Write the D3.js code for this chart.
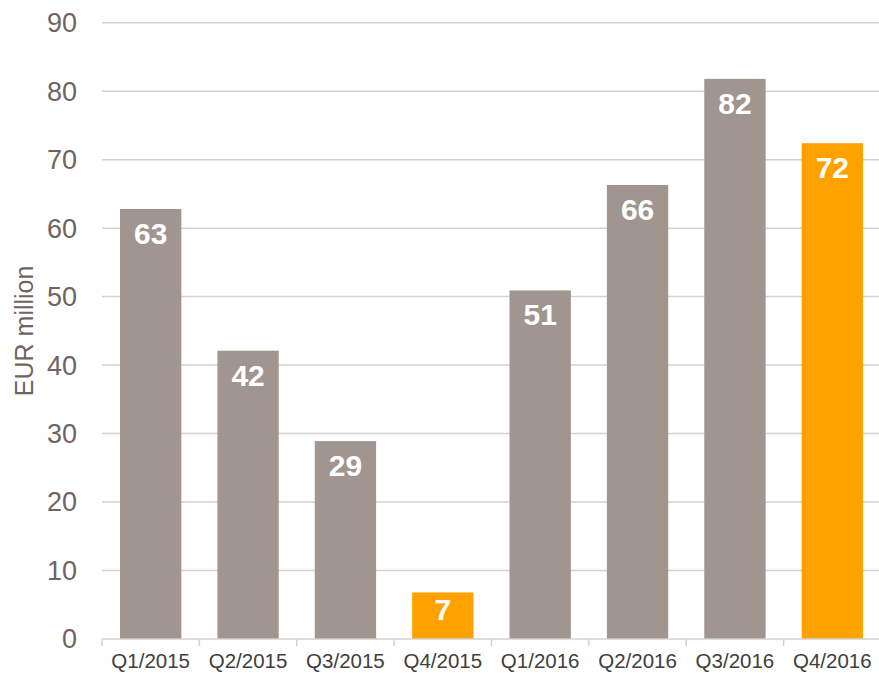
<!DOCTYPE html>
<html>
<head>
<meta charset="utf-8">
<script src="https://cdn.jsdelivr.net/npm/d3@7"></script>
<style>
  body { margin: 0; background: #fff; }
  svg { display: block; font-family: Arial, "Liberation Sans", sans-serif; }
</style>
</head>
<body>
<script>
const width = 879;
const height = 673;

const quarters = ['Q1/2015', 'Q2/2015', 'Q3/2015', 'Q4/2015', 'Q1/2016', 'Q2/2016', 'Q3/2016', 'Q4/2016'];
const values = [62.8, 42.1, 28.9, 6.8, 50.9, 66.3, 81.8, 72.4];
const highlight = ['Q4/2015', 'Q4/2016'];
const yTicks = [0, 10, 20, 30, 40, 50, 60, 70, 80, 90];

const margin = { top: 22.7, right: -2, bottom: 34, left: 102 };

const svg = d3.select('body').append('svg')
    .attr('width', width)
    .attr('height', height);

const x = d3.scaleBand()
    .domain(quarters)
    .range([margin.left, width - margin.right])
    .paddingInner(0.37)
    .paddingOuter(0.185);

const y = d3.scaleLinear()
    .domain([0, 90])
    .range([height - margin.bottom, margin.top]);

// gridlines
svg.append('g')
  .selectAll('line')
  .data(yTicks.filter((d) => d > 0))
  .join('line')
    .attr('x1', margin.left)
    .attr('x2', width)
    .attr('y1', (d) => y(d))
    .attr('y2', (d) => y(d))
    .attr('stroke', '#d6d1ce')
    .attr('stroke-width', 1.5);

// y axis labels
svg.append('g')
  .selectAll('text')
  .data(yTicks)
  .join('text')
    .attr('x', 77)
    .attr('y', (d) => y(d))
    .attr('dy', '0.35em')
    .attr('text-anchor', 'end')
    .attr('fill', '#6f6461')
    .attr('font-size', 27)
    .text((d) => d);

svg.append('text')
    .attr('transform', `translate(33,${y(45)})rotate(-90)`)
    .attr('text-anchor', 'middle')
    .attr('fill', '#6f6461')
    .attr('font-size', 25)
    .text('EUR million');

// bars
svg.append('g')
  .selectAll('rect')
  .data(quarters)
  .join('rect')
    .attr('x', (d) => x(d))
    .attr('width', x.bandwidth())
    .attr('y', (d, i) => y(values[i]))
    .attr('height', (d, i) => y(0) - y(values[i]))
    .attr('fill', (d) => highlight.includes(d) ? '#ffa200' : '#a0958f');

// value labels
svg.append('g')
  .selectAll('text')
  .data(quarters)
  .join('text')
    .attr('x', (d) => x(d) + x.bandwidth() / 2)
    .attr('y', (d, i) => Math.min(y(values[i]) + 35, y(0) - 19))
    .attr('text-anchor', 'middle')
    .attr('fill', '#fff')
    .attr('font-size', 30)
    .attr('font-weight', 'bold')
    .text((d, i) => Math.round(values[i]));

// x axis
const xAxis = svg.append('g')
    .attr('transform', `translate(0,${y(0)})`);

xAxis.append('line')
    .attr('x1', margin.left)
    .attr('x2', width)
    .attr('stroke', '#d6d1ce')
    .attr('stroke-width', 1.5);

xAxis.selectAll('.tick')
  .data(quarters.concat([null]))
  .join('line')
    .attr('x1', (d, i) => x.step() * i + margin.left)
    .attr('x2', (d, i) => x.step() * i + margin.left)
    .attr('y1', 0)
    .attr('y2', 7)
    .attr('stroke', '#d6d1ce')
    .attr('stroke-width', 1.5);

xAxis.selectAll('text')
  .data(quarters)
  .join('text')
    .attr('x', (d) => x(d) + x.bandwidth() / 2)
    .attr('y', 29)
    .attr('text-anchor', 'middle')
    .attr('fill', '#404040')
    .attr('font-size', 20.5)
    .text((d) => d);
</script>
</body>
</html>
